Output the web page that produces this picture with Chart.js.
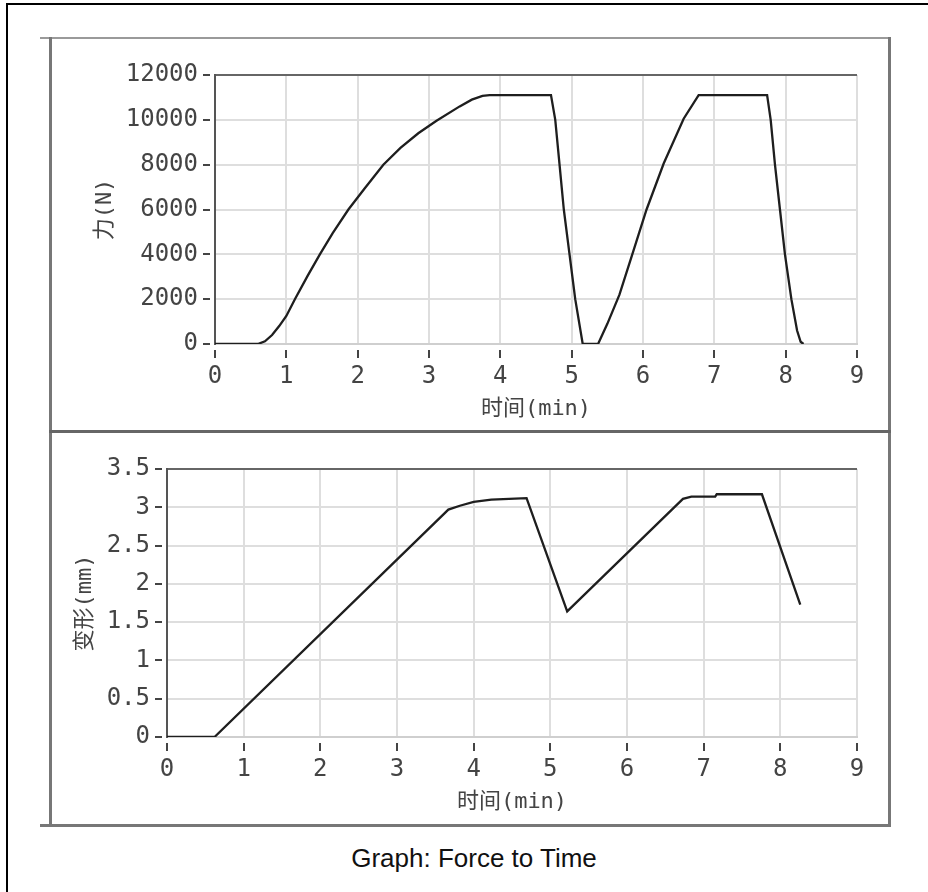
<!DOCTYPE html>
<html>
<head>
<meta charset="utf-8">
<title>Graph: Force to Time</title>
<script src="https://cdn.jsdelivr.net/npm/chart.js@4.4.0/dist/chart.umd.min.js"></script>
<style>
  body { margin: 0; background: #fff; }
  #page { position: relative; width: 928px; height: 892px; overflow: hidden; background: #fff; }
  .ln { position: absolute; }
  .box { position: absolute; }
  #caption {
    position: absolute; left: 0; top: 843px; width: 948px; height: 30px;
    line-height: 30px; text-align: center; color: #111;
    font-family: "Liberation Sans", Arial, sans-serif; font-size: 26px;
  }
</style>
</head>
<body>
<div id="page">
  <!-- outer frame (left and top edges only are visible) -->
  <div class="ln" style="left:6px; top:3px; width:2px; height:900px; background:#000;"></div>
  <div class="ln" style="left:6px; top:3px; width:930px; height:2px; background:#000;"></div>

  <!-- panel around both graphs -->
  <div class="ln" style="left:40px; top:37px; width:851px; height:2px; background:#9a9a9a;"></div>
  <div class="ln" style="left:49px; top:37px; width:3px; height:790px; background:#777;"></div>
  <div class="ln" style="left:888px; top:37px; width:3px; height:790px; background:#777;"></div>
  <div class="ln" style="left:49px; top:430px; width:842px; height:3px; background:#666;"></div>
  <div class="ln" style="left:40px; top:824px; width:851px; height:3px; background:#777;"></div>

  <div class="box" style="left:52px; top:40px; width:836px; height:390px;"><canvas id="forceChart"></canvas></div>
  <div class="box" style="left:52px; top:434px; width:836px; height:389px;"><canvas id="deformChart"></canvas></div>

  <div id="caption">Graph: Force to Time</div>
</div>

<script>
// Force curve (time in min, force in N)
const forceTime = [0, 0.6, 0.7, 0.8, 0.9, 1.0, 1.12, 1.3, 1.47, 1.65, 1.87, 2.1, 2.36, 2.6, 2.85, 3.1,
  3.43, 3.6, 3.75, 3.85,
  4.71, 4.77, 4.83, 4.89, 4.97, 5.05, 5.155, 5.19, 5.37, 5.5, 5.67, 5.86, 6.05, 6.29, 6.57, 6.78,
  7.74, 7.79, 7.85, 7.92, 7.99, 8.08, 8.16, 8.21, 8.25];
const forceValues = [0, 0, 120, 400, 800, 1250, 2000, 3050, 4000, 4950, 6000, 6950, 8000, 8750, 9400, 9950,
  10600, 10900, 11070, 11100,
  11100, 10000, 8000, 6000, 4000, 2000, 0, 0, 0, 900, 2200, 4100, 6000, 8050, 10050, 11100,
  11100, 10000, 8000, 6000, 4000, 2000, 600, 100, 0];

// Deformation curve (time in min, deformation in mm)
const deformTime = [0, 0.62, 3.67, 3.82, 4.0, 4.23, 4.69, 5.22, 6.73, 6.84, 7.15, 7.17, 7.76, 8.26];
const deformValues = [0, 0, 2.97, 3.02, 3.07, 3.10, 3.12, 1.64, 3.11, 3.14, 3.14, 3.17, 3.17, 1.73];

const timeTicks = [0, 1, 2, 3, 4, 5, 6, 7, 8, 9];
const forceTicks = [0, 2000, 4000, 6000, 8000, 10000, 12000];
const deformTicks = [0, 0.5, 1, 1.5, 2, 2.5, 3, 3.5];

const axisFont = { family: '"DejaVu Sans Mono", "Noto Sans CJK SC", monospace', size: 24 };
const titleFont = { family: '"DejaVu Sans Mono", "Noto Sans CJK SC", monospace', size: 22 };
const textColor = '#444';

function toPoints(xs, ys) {
  return xs.map((x, i) => ({ x: x, y: ys[i] }));
}

function makeChart(canvasId, times, values, yTicks, yTitle, yAxisWidth, yTitlePad) {
  const yMax = yTicks[yTicks.length - 1];
  return new Chart(document.getElementById(canvasId), {
    type: 'line',
    data: {
      datasets: [{
        data: toPoints(times, values),
        borderColor: '#1e1e1e',
        borderWidth: 2.3,
        pointRadius: 0,
        tension: 0,
        fill: false
      }]
    },
    options: {
      responsive: true,
      maintainAspectRatio: false,
      animation: false,
      events: [],
      layout: { padding: { left: 0, right: 31, top: 35, bottom: 0 } },
      plugins: { legend: { display: false }, tooltip: { enabled: false } },
      scales: {
        x: {
          type: 'linear',
          min: 0,
          max: 9,
          afterBuildTicks: s => { s.ticks = timeTicks.map(v => ({ value: v })); },
          afterFit: s => { s.height = 86; },
          grid: {
            color: '#dedede',
            lineWidth: 2,
            tickLength: 14,
            tickColor: '#444',
            tickWidth: 2,
            tickBorderDash: [0, 5, 9, 20]
          },
          border: { color: '#cfcfcf', width: 2 },
          ticks: { color: textColor, font: axisFont, padding: 4, maxRotation: 0, callback: v => String(v) },
          title: { display: true, text: '时间(min)', color: textColor, font: titleFont, padding: { top: 0, bottom: 8 } }
        },
        y: {
          min: 0,
          max: yMax,
          afterBuildTicks: s => { s.ticks = yTicks.map(v => ({ value: v })); },
          afterFit: s => { s.width = yAxisWidth; },
          grid: {
            color: c => (c.tick && c.tick.value === yMax) ? '#666' : '#dedede',
            lineWidth: 2,
            tickLength: 12,
            tickColor: '#444',
            tickWidth: 2,
            tickBorderDash: [7, 20]
          },
          border: { color: '#555', width: 2 },
          ticks: { color: textColor, font: axisFont, padding: 5, callback: v => String(v) },
          title: { display: true, text: yTitle, color: textColor, font: titleFont, padding: { top: yTitlePad, bottom: 0 } }
        }
      }
    }
  });
}

makeChart('forceChart', forceTime, forceValues, forceTicks, '力(N)', 163, 40);
makeChart('deformChart', deformTime, deformValues, deformTicks, '变形(mm)', 115, 20);
</script>
</body>
</html>
